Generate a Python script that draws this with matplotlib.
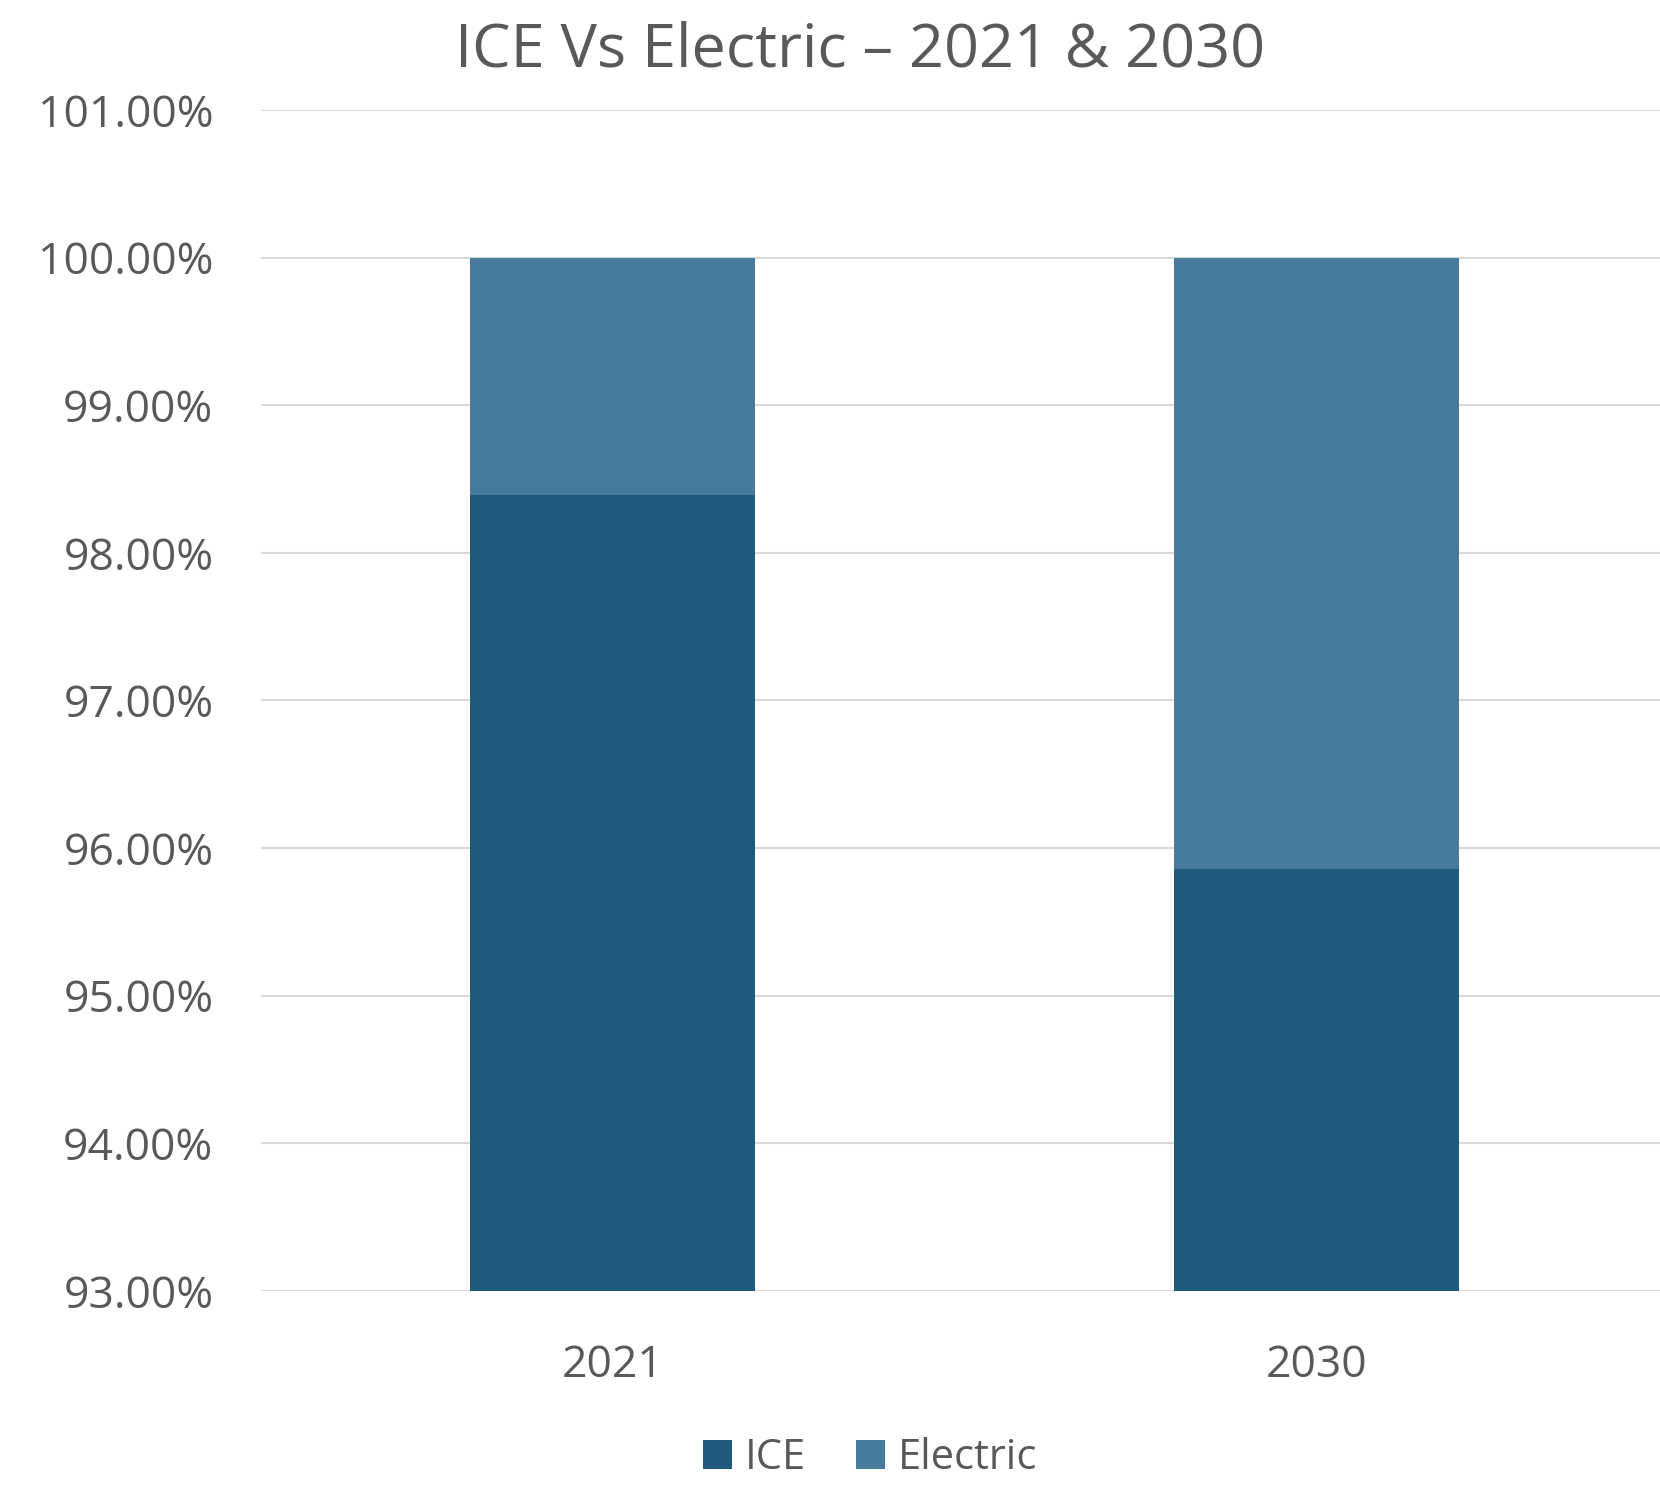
import matplotlib.pyplot as plt
from matplotlib.ticker import FuncFormatter

years = ['2021', '2030']
ice = [98.39, 95.86]
electric = [1.61, 4.14]
ytick_vals = [93, 94, 95, 96, 97, 98, 99, 100, 101]

plt.rcParams['font.family'] = ['Open Sans', 'DejaVu Sans']
TXT = '#595959'

fig = plt.figure(figsize=(16.6, 14.85), dpi=100)
ax = fig.add_axes([0.157, 0.1307, 0.848, 0.7953])

x = range(len(years))
ax.bar(x, ice, width=0.405, color='#1f5a7c', label='ICE', zorder=2)
ax.bar(x, electric, width=0.405, bottom=ice, color='#467b9c', label='Electric', zorder=2)

ax.set_ylim(93, 101)
ax.set_xlim(-0.5, 1.5)
ax.set_yticks(ytick_vals)
ax.yaxis.set_major_formatter(FuncFormatter(lambda v, p: '%.2f%%' % v))
ax.set_xticks(list(x))
ax.set_xticklabels(years)
ax.grid(axis='y', color='#d9d9d9', linewidth=1.5, zorder=0)
for s in ax.spines.values():
    s.set_visible(False)
ax.tick_params(axis='both', length=0, labelsize=32, colors=TXT)
ax.tick_params(axis='y', pad=34)
ax.tick_params(axis='x', pad=38)

fig.text(0.518, 0.966, 'ICE Vs Electric \u2013 2021 & 2030', ha='center', va='center',
         fontsize=44, color=TXT)
fig.legend(loc='center', bbox_to_anchor=(0.524, 0.018), ncol=2, frameon=False,
           fontsize=30, labelcolor=TXT, handlelength=0.7, handleheight=0.7,
           handletextpad=0.3, columnspacing=1.2)

plt.savefig('out.png')
